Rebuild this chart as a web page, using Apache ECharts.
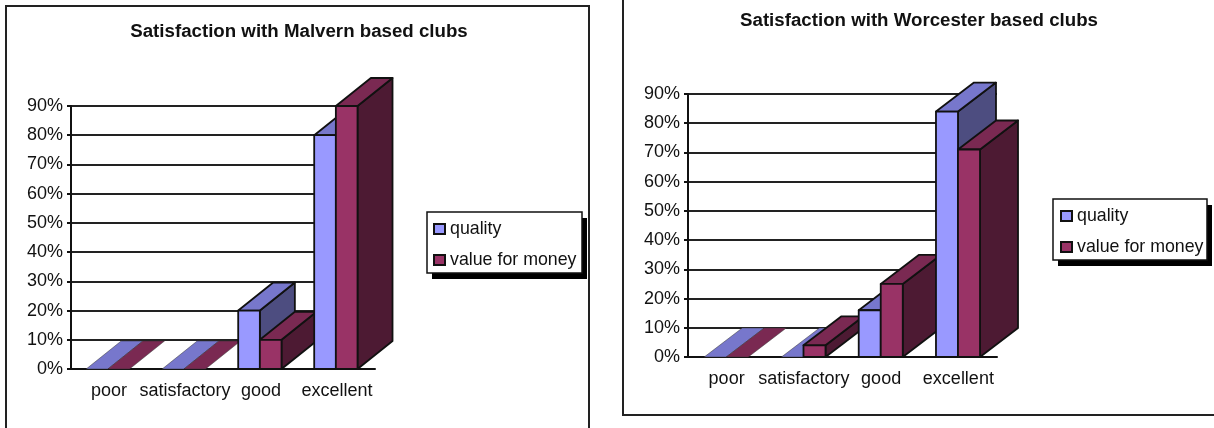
<!DOCTYPE html>
<html><head><meta charset="utf-8">
<style>html,body{margin:0;padding:0;background:#fff}#c{width:1214px;height:428px}</style>
<script src="https://cdn.jsdelivr.net/npm/echarts@6/dist/echarts.min.js"></script>
</head><body><div id="c"></div>
<script>
const categories = ['poor','satisfactory','good','excellent'];
const tickMax = 90;
const malvernQuality = [0,0,20,80];
const malvernValue = [0,0,10,90];
const worcesterQuality = [0,0,16,84];
const worcesterValue = [0,4,25,71];
const titleMalvern = 'Satisfaction with Malvern based clubs';
const titleWorcester = 'Satisfaction with Worcester based clubs';
const FONT = '"Liberation Sans", Arial, sans-serif';

const palette = [
  {front:'#9999FF', top:'#7777CC', side:'#4D4D80'},
  {front:'#993366', top:'#7A2952', side:'#4D1A33'}
];
function bar3d(sIdx, dx, dy, off){
  return function(params, api){
    const cat = api.value(0), val = api.value(1);
    const c = api.coord([cat, val]), base = api.coord([cat, 0]);
    const band = api.size([1,0])[0];
    const w = band*0.285;
    const x0 = c[0]-band/2 + band*off + sIdx*w;
    const x1 = x0+w, yT = c[1], yB = base[1];
    const col = palette[sIdx];
    const z = cat*3 + sIdx;
    const st = val>0 ? {stroke:'#111', lineWidth:1.8, lineJoin:'round'} : {stroke:null, lineWidth:0};
    const stFlat = val>0 ? st : {stroke:'#333', lineWidth:0.5};
    const kids = [];
    kids.push({type:'polygon', z2:z, shape:{points:[[x1,yB],[x1+dx,yB-dy],[x1+dx,yT-dy],[x1,yT]]}, style:Object.assign({fill:col.side},st)});
    kids.push({type:'polygon', z2:z, shape:{points:[[x0,yT],[x0+dx,yT-dy],[x1+dx,yT-dy],[x1,yT]]}, style:Object.assign({fill:col.top},stFlat)});
    if(val>0) kids.push({type:'rect', z2:z, shape:{x:x0,y:yT,width:w,height:yB-yT}, style:Object.assign({fill:col.front},st)});
    return {type:'group', children:kids};
  };
}
function mkSeries(name, arr, sIdx, gi, dx, dy, off){
  return {type:'custom', name, xAxisIndex:gi, yAxisIndex:gi, z:3, clip:false, silent:true,
    coordinateSystem:'cartesian2d',
    itemStyle:{color:palette[sIdx].front, borderColor:'#111', borderWidth:1.8},
    encode:{x:0,y:1},
    data:arr.map((v,i)=>[i,v]),
    renderItem:bar3d(sIdx,dx,dy,off)};
}
function mkX(gi){return {type:'category',gridIndex:gi,data:categories,
  axisLine:{show:true,onZero:false,lineStyle:{color:'#111',width:2}},axisTick:{show:false},splitLine:{show:false},
  axisLabel:{color:'#111',fontFamily:FONT,fontSize:18,margin:13,interval:0}};}
function mkY(gi){return {type:'value',gridIndex:gi,min:0,max:tickMax,interval:10,
  axisLine:{show:true,lineStyle:{color:'#111',width:2}},axisTick:{show:true,length:4,lineStyle:{color:'#111',width:2}},
  splitLine:{show:true,lineStyle:{color:'#222',width:2}},
  axisLabel:{color:'#111',fontFamily:FONT,fontSize:18,margin:8,padding:[2,0,0,0],formatter:'{value}%'}};}
function mkLegend(left,top){return {left,top,orient:'vertical',selectedMode:false,
  data:['quality','value for money'],padding:0,itemGap:13,itemWidth:11,itemHeight:10,icon:'rect',
  textStyle:{color:'#111',fontFamily:FONT,fontSize:17.8}};}
function mkTitle(text,cx,top){return {text,left:cx,top,textAlign:'center',padding:0,
  textStyle:{color:'#111',fontFamily:FONT,fontSize:18.7,fontWeight:'bold'}};}
function legendBox(x,y,w,h){return [
  {type:'rect',z:1,shape:{x:x+5,y:y+6,width:w,height:h},style:{fill:'#000'}},
  {type:'rect',z:1,shape:{x,y,width:w,height:h},style:{fill:'#fff',stroke:'#111',lineWidth:1.5}}
];}

const option = {
  animation:false, backgroundColor:'#fff',
  title:[mkTitle(titleMalvern,299,22),mkTitle(titleWorcester,919,11)],
  legend:[mkLegend(433,220),mkLegend(1060,207)],
  grid:[{left:71,top:106,width:304,height:263},{left:688,top:94,width:309,height:263}],
  xAxis:[mkX(0),mkX(1)], yAxis:[mkY(0),mkY(1)],
  series:[
    mkSeries('quality',malvernQuality,0,0,35,28,0.2),
    mkSeries('value for money',malvernValue,1,0,35,28,0.2),
    mkSeries('quality',worcesterQuality,0,1,38,29,0.21),
    mkSeries('value for money',worcesterValue,1,1,38,29,0.21)
  ],
  graphic:[
    {type:'rect',z:-1,shape:{x:6,y:6,width:583,height:440},style:{fill:'none',stroke:'#222',lineWidth:2}},
    {type:'rect',z:-1,shape:{x:623,y:-20,width:620,height:435},style:{fill:'none',stroke:'#222',lineWidth:2}}
  ].concat(legendBox(427,212,155,61),legendBox(1053,199,154,61))
};
echarts.init(document.getElementById('c')).setOption(option);
</script></body></html>
